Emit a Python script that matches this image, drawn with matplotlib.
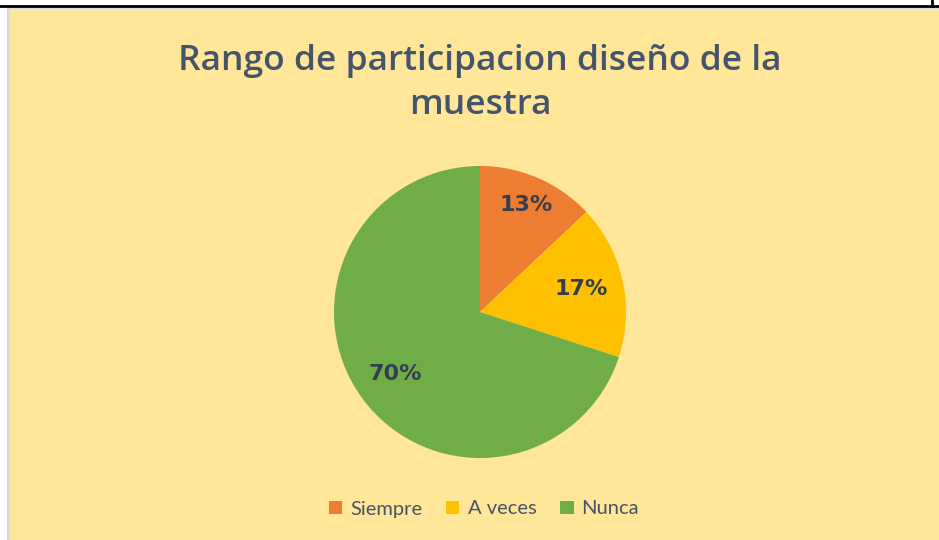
import matplotlib

matplotlib.use("Agg")
import numpy as np  # noqa: E402
import matplotlib.pyplot as plt  # noqa: E402
from matplotlib.patches import Rectangle  # noqa: E402
from matplotlib.lines import Line2D  # noqa: E402

# data
categories = ["Siempre", "A veces", "Nunca"]
shares = [13, 17, 70]
colors = ["#ED7D31", "#FFC000", "#70AD47"]
label_dist = [0.80, 0.71, 0.72]

title = "Rango de participacion diseño de la\nmuestra"
bg = "#FFE699"
text_col = "#44546A"

W, H = 939, 540
fig = plt.figure(figsize=(W / 100, H / 100), dpi=100, facecolor="white")


def px(x, y):
    """pixel coords (top-left origin) -> figure fraction"""
    return x / W, 1 - y / H


# chart area frame, as in the screenshot
fig.patches.append(Rectangle((10 / W, 0), 1, 1 - 9 / H, transform=fig.transFigure,
                             facecolor=bg, edgecolor="none", zorder=-2))
fig.patches.append(Rectangle((7 / W, 0), 3 / W, 1 - 7 / H, transform=fig.transFigure,
                             facecolor="#D6DCE5", edgecolor="none", zorder=-2))
fig.patches.append(Rectangle((10 / W, 1 - 9 / H), 1, 2 / H, transform=fig.transFigure,
                             facecolor="#D6DCE5", edgecolor="none", zorder=-2))
fig.lines.append(Line2D([0, 1], [1 - 6 / H] * 2, transform=fig.transFigure,
                        color="black", lw=2))
fig.lines.append(Line2D([932 / W] * 2, [1, 1 - 6 / H], transform=fig.transFigure,
                        color="black", lw=2))

cx, cy, r = 480, 312, 146
ax = fig.add_axes([(cx - r) / W, (H - cy - r) / H, 2 * r / W, 2 * r / H])
ax.set_zorder(2)
ax.set_facecolor("none")
wedges, _ = ax.pie(shares, colors=colors, startangle=90, counterclock=False,
                   radius=1, wedgeprops=dict(linewidth=0))
ax.set_xlim(-1, 1)
ax.set_ylim(-1, 1)
ax.set_aspect("equal")
ax.axis("off")

for w, v, d in zip(wedges, shares, label_dist):
    ang = np.deg2rad((w.theta1 + w.theta2) / 2)
    ax.text(d * np.cos(ang), d * np.sin(ang), f"{v}%", ha="center", va="center",
            fontsize=16, fontweight="bold", color="#333F50", family="DejaVu Sans")

fig.text(*px(480, 83), title, ha="center", va="center", fontsize=25.5,
         fontweight="semibold", color=text_col, family="Open Sans", linespacing=1.42)

handles = [Rectangle((0, 0), 1, 1, facecolor=c) for c in colors]
leg = fig.legend(handles, categories, loc="center", bbox_to_anchor=px(484, 509),
                 ncol=3, frameon=False, fontsize=14.5, handlelength=0.65,
                 handleheight=0.65, handletextpad=0.4, columnspacing=1.2)
for t in leg.get_texts():
    t.set_color(text_col)
    t.set_family("Lato")

fig.savefig("out.png", dpi=100, facecolor=fig.get_facecolor())
